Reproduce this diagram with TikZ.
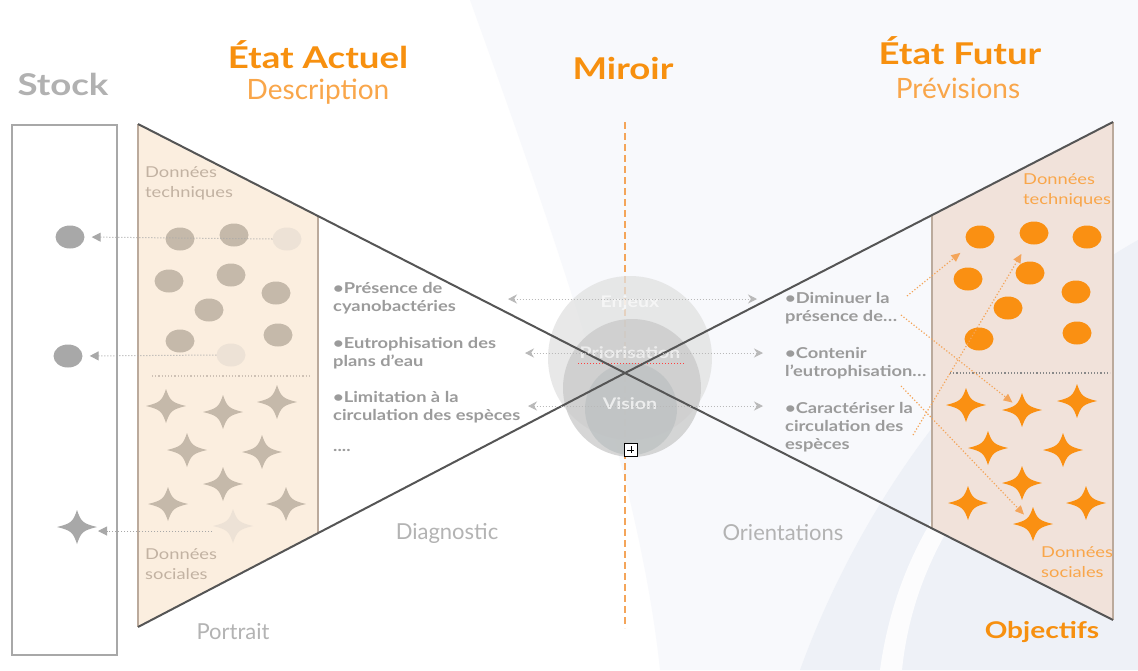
\documentclass[tikz,border=0pt]{standalone}
\usepackage{fontspec}
\setmainfont{Lato}
\newfontfamily\widefont[FakeStretch=1.22]{Lato}
\usetikzlibrary{arrows.meta,shapes.geometric}

\definecolor{bgblue}{HTML}{F8F9FC}
\definecolor{bgblue2}{HTML}{EEF1F7}
\definecolor{peachL}{HTML}{FBEEDF}
\definecolor{peachR}{HTML}{F1E2DA}
\definecolor{panelEdge}{HTML}{BBAA9C}
\definecolor{brownItem}{HTML}{C5B9AA}
\definecolor{brownFade}{HTML}{EDE2D6}
\definecolor{stockGray}{HTML}{A8A8A8}
\definecolor{lineDark}{HTML}{555555}
\definecolor{textGray}{HTML}{9B9B9B}
\definecolor{labelGray}{HTML}{B3B3B3}
\definecolor{orangeA}{HTML}{F7900F}
\definecolor{orangeB}{HTML}{F9A64A}
\definecolor{orangeItem}{HTML}{FA9012}
\definecolor{dashOrange}{HTML}{F4A55A}
\definecolor{circL}{HTML}{E1E1E1}
\definecolor{circM}{HTML}{C9C9C9}
\definecolor{circS}{HTML}{BCC1C2}
\definecolor{dataBrown}{HTML}{C2B2A2}

\tikzset{
  titleB/.style={font=\widefont\fontsize{30}{34}\selectfont\bfseries, text=orangeA, inner sep=0pt},
  titleL/.style={font=\fontsize{28}{30}\selectfont, text=orangeB, inner sep=0pt},
  sub/.style={font=\fontsize{22}{26}\selectfont, text=labelGray, inner sep=0pt},
  bullet/.style={font=\widefont\fontsize{15}{18}\selectfont\bfseries, text=textGray, align=left, anchor=north west, inner sep=0pt},
  data/.style={font=\widefont\fontsize{15}{20}\selectfont, align=left, anchor=north west, inner sep=0pt},
  inner/.style={font=\widefont\fontsize{16}{18}\selectfont\bfseries, text=white},
  dot/.style={ellipse, minimum width=29pt, minimum height=23pt, inner sep=0pt, fill=#1},
  edge/.style={panelEdge, line width=1.5pt},
  cross/.style={lineDark, line width=2pt},
  stockArrow/.style={stockGray, line width=1pt, dotted, -{Triangle[length=9pt,width=9pt]}},
  mirrorArrow/.style={stockGray!80, line width=1pt, dotted, {Stealth[length=9pt,width=9pt]}-{Stealth[length=9pt,width=9pt]}},
  goalArrow/.style={dashOrange, line width=1.2pt, dotted, -{Triangle[length=9pt,width=8pt]}},
  spark/.pic={
    \fill[pic actions] (20,0) .. controls (6,3.4) and (4,5.1) .. (0,17) .. controls (-4,5.1) and (-6,3.4) .. (-20,0)
      .. controls (-6,-3.4) and (-4,-5.1) .. (0,-17) .. controls (4,-5.1) and (6,-3.4) .. cycle;
    \coordinate (-c) at (0,0);
  }
}

\begin{document}
\begin{tikzpicture}[x=1pt,y=-1pt]
\useasboundingbox (0,0) rectangle (1138,670);

% background
\fill[white] (0,0) rectangle (1138,670);
\fill[bgblue] (470,0) .. controls (560,250) and (640,480) .. (660,670) -- (1138,670) -- (1138,0) -- cycle;
\fill[bgblue2] (800,670) .. controls (880,450) and (1030,300) .. (1138,240) -- (1138,670) -- cycle;
\fill[white, opacity=.85] (880,670) .. controls (895,560) and (950,470) .. (1040,400) -- (1052,410) .. controls (965,480) and (912,570) .. (902,670) -- cycle;

% bowtie corners
\coordinate (X) at (625,373);
\coordinate (LT) at (138,124);
\coordinate (LB) at (138,627);
\coordinate (RT) at (1113,122);
\coordinate (RB) at (1113,620);
\coordinate (LTi) at (318,216);
\coordinate (LBi) at (318,533);
\coordinate (RTi) at (932,215);
\coordinate (RBi) at (932,528);

% panels
\fill[peachL] (LT) -- (LTi) -- (LBi) -- (LB) -- cycle;
\fill[peachR] (RT) -- (RTi) -- (RBi) -- (RB) -- cycle;
\draw[edge] (LT) -- (LB);
\draw[edge] (LTi) -- (LBi);
\draw[edge] (RTi) -- (RBi);
\draw[edge] (RT) -- (RB);
\draw[dataBrown!80, line width=1.2pt, dotted] (152,376) -- (310,376);
\draw[lineDark!70, line width=1.2pt, dotted] (950,373) -- (1110,373);

% stock
\draw[stockGray, line width=1.5pt, fill=white] (12,125) rectangle (117,655);
\node[dot=stockGray] (st1) at (70,237) {};
\node[dot=stockGray] (st2) at (68,356) {};
\pic[fill=stockGray] (st3) at (77,527) {spark};

% mirror axis and circles
\draw[dashOrange, line width=2.5pt, dash pattern=on 7pt off 4pt] (625,122) -- (625,628);
\fill[circL, opacity=.75] (630,358) circle (82);
\fill[circM, opacity=.75] (632,388) circle (69);
\fill[circS, opacity=.75] (631,409) circle (46);
\node[inner, opacity=.6] (enjeux) at (630,303) {Enjeux};
\node[inner, opacity=.6] (prio) at (630,353) {Priorisation};
\node[inner, opacity=.7] (vision) at (630,404) {Vision};
\draw[red!75, line width=1pt, dotted] (578,363) -- (685,363);

% crossing lines
\draw[cross] (LT) -- (X) -- (RB);
\draw[cross] (LB) -- (X) -- (RT);

% left items
\node[dot=brownItem] (a1) at (180,239) {};
\node[dot=brownItem] (a2) at (234,235) {};
\node[dot=brownFade] (a3) at (287,239) {};
\node[dot=brownItem] (a4) at (169,281) {};
\node[dot=brownItem] (a5) at (231,275) {};
\node[dot=brownItem] (a6) at (276,293) {};
\node[dot=brownItem] (a7) at (209,310) {};
\node[dot=brownItem] (a8) at (180,341) {};
\node[dot=brownItem] (a9) at (278,335) {};
\node[dot=brownFade] (a10) at (231,355) {};
\pic[fill=brownItem] (b1) at (166,406) {spark};
\pic[fill=brownItem] (b2) at (223,412) {spark};
\pic[fill=brownItem] (b3) at (277,402) {spark};
\pic[fill=brownItem] (b4) at (187,450) {spark};
\pic[fill=brownItem] (b5) at (262,452) {spark};
\pic[fill=brownItem] (b6) at (223,484) {spark};
\pic[fill=brownItem] (b7) at (168,504) {spark};
\pic[fill=brownItem] (b8) at (286,504) {spark};
\pic[fill=brownFade] (b9) at (233,526) {spark};

% right items
\node[dot=orangeItem] (o1) at (980,237) {};
\node[dot=orangeItem] (o2) at (1034,233) {};
\node[dot=orangeItem] (o3) at (1087,237) {};
\node[dot=orangeItem] (o4) at (968,279) {};
\node[dot=orangeItem] (o5) at (1030,273) {};
\node[dot=orangeItem] (o6) at (1076,292) {};
\node[dot=orangeItem] (o7) at (1008,308) {};
\node[dot=orangeItem] (o8) at (979,339) {};
\node[dot=orangeItem] (o9) at (1077,333) {};
\pic[fill=orangeItem] (s1) at (966,405) {spark};
\pic[fill=orangeItem] (s2) at (1022,410) {spark};
\pic[fill=orangeItem] (s3) at (1077,401) {spark};
\pic[fill=orangeItem] (s4) at (988,448) {spark};
\pic[fill=orangeItem] (s5) at (1063,450) {spark};
\pic[fill=orangeItem] (s6) at (1022,483) {spark};
\pic[fill=orangeItem] (s7) at (968,503) {spark};
\pic[fill=orangeItem] (s8) at (1086,503) {spark};
\pic[fill=orangeItem] (s9) at (1033,524) {spark};

% data labels
\node[data, text=dataBrown] (techL) at (145,166) {Données\\techniques};
\node[data, text=dataBrown] (socL) at (145,548) {Données\\sociales};
\node[data, text=orangeB] (techR) at (1023,173) {Données\\techniques};
\node[data, text=orangeB] (socR) at (1041,546) {Données\\sociales};

% titles
\node[titleB, text=stockGray!90] (stock) at (63,84) {Stock};
\node[titleB] (actuel) at (318,55) {État Actuel};
\node[titleL] (descr) at (318,92) {Description};
\node[titleB] (miroir) at (623,68) {Miroir};
\node[titleB] (futur) at (960,51) {État Futur};
\node[titleL] (prev) at (958,88) {Prévisions};
\node[titleB, font=\widefont\fontsize{23}{26}\selectfont\bfseries] (obj) at (1042,632) {Objectifs};
\node[sub] (portrait) at (233,632) {Portrait};
\node[sub] (diag) at (447,533) {Diagnostic};
\node[sub] (orient) at (783,533) {Orientations};

% bullets
\node[bullet] (p1) at (333,282) {\textbullet Présence de\\cyanobactéries};
\node[bullet] (p2) at (333,337) {\textbullet Eutrophisation des\\plans d’eau};
\node[bullet] (p3) at (333,391) {\textbullet Limitation à la\\circulation des espèces};
\node[bullet] (p4) at (333,449) {....};
\node[bullet] (q1) at (785,292) {\textbullet Diminuer la\\présence de…};
\node[bullet] (q2) at (785,347) {\textbullet Contenir\\l’eutrophisation…};
\node[bullet] (q3) at (785,402) {\textbullet Caractériser la\\circulation des\\espèces};

% stock arrows
\draw[stockArrow, shorten >=7pt] (a3.west) -- (st1.east);
\draw[stockArrow, shorten >=7pt] (a10.west) -- (st2.east);
\coordinate (b9w) at (212,531);
\coordinate (st3e) at (98,531);
\draw[stockArrow] (b9w) -- (st3e);

% mirror arrows
\coordinate (m1l) at (508,299); \coordinate (m1r) at (757,299);
\coordinate (m2l) at (525,353); \coordinate (m2r) at (763,353);
\coordinate (m3l) at (528,406); \coordinate (m3r) at (763,406);
\draw[mirrorArrow] (m1l) -- (m1r);
\draw[mirrorArrow] (m2l) -- (m2r);
\draw[mirrorArrow] (m3l) -- (m3r);

% goal arrows
\coordinate (g1) at (907,296);
\coordinate (g2) at (901,315);
\coordinate (g3) at (913,435);
\coordinate (g4) at (901,386);
\draw[goalArrow, shorten >=12pt] (g1) -- (o1);
\draw[goalArrow, shorten >=12pt] (g2) -- (s2-c);
\draw[goalArrow, shorten >=12pt] (g3) -- (o2);
\draw[goalArrow, shorten >=13pt] (g4) -- (s9-c);

% plus box
\node[draw=black, fill=white, line width=1pt, minimum size=13pt, inner sep=0pt] (plus) at (631,450) {};
\draw[line width=1pt] (plus.north) ++(0,3) -- ++(0,7);
\draw[line width=1pt] (plus.west) ++(3,0) -- ++(7,0);
\end{tikzpicture}
\end{document}
